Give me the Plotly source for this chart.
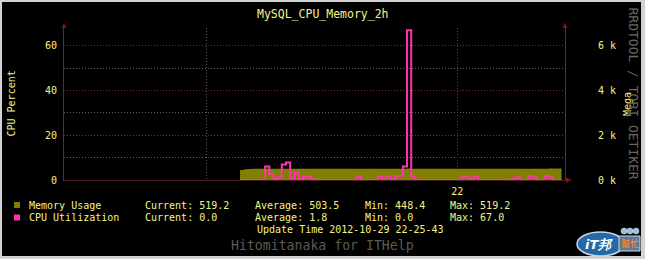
import plotly.graph_objects as go
from datetime import datetime, timedelta

# ---------------- data ----------------
chart_title = "MySQL_CPU_Memory_2h"
x_start = "2012-10-29 20:25:50"
x_end = "2012-10-29 22:25:50"
first_sample = "2012-10-29 21:08:00"
step_seconds = 60
x_tick_vals = ["2012-10-29 22:00:00"]
x_tick_text = ["22"]
x_minor_vals = ["2012-10-29 21:00:00"]

cpu_percent = [0, 0, 0, 0, 0, 0, 6.0, 2.7, 0.3, 1.5, 6.9, 7.8, 0.9, 3.3, 0.3, 1.5, 1.5, 0.3,
               0, 0, 0, 0, 0, 0, 0, 0, 0, 0, 1.5, 0, 0, 0, 0, 1.5, 0, 1.5, 0, 1.5, 1.9, 6.0, 67.0, 1.5,
               0, 0, 0, 0, 0, 0, 0, 0, 0, 0, 0, 1.5, 1.5, 0, 1.5, 0, 0, 0, 0, 0, 0, 0, 0,
               0.6, 1.2, 0, 0, 1.8, 1.2, 0, 0, 1.8, 1.2, 0, 0]

memory_mega = [448.4, 486.0, 497.3, 501.2, 503.8, 504.1, 505.0, 505.6, 504.9, 505.2,
               505.7, 506.1, 505.8, 505.4, 505.9, 506.3, 506.0, 505.7, 505.5, 505.2,
               505.0, 504.8, 504.6, 504.4, 504.3, 504.1, 504.0, 503.9, 503.8, 503.6,
               503.7, 503.9, 504.0, 504.2, 504.4, 504.6, 505.0, 505.3, 505.8, 507.1,
               509.4, 508.0, 506.2, 505.0, 504.3, 503.9, 503.5, 503.2, 503.0, 502.9,
               502.8, 502.7, 502.6, 502.8, 503.0, 503.1, 503.0, 502.9, 502.8, 502.7,
               502.6, 502.5, 502.4, 502.5, 502.6, 502.8, 503.0, 503.2, 503.5, 504.0,
               504.6, 505.3, 506.2, 507.5, 509.8, 513.6, 519.2]

cpu_ticks = [0, 20, 40, 60]
cpu_tick_text = ["0", "20", "40", "60"]
mem_ticks = [0, 2000, 4000, 6000]
mem_tick_text = ["0 k", "2 k", "4 k", "6 k"]
mem_minor = [1000, 3000, 5000]

legend_rows = [
    ["Memory Usage", "Current: 519.2", "Average: 503.5", "Min: 448.4", "Max: 519.2"],
    ["CPU Utilization", "Current: 0.0", "Average: 1.8", "Min: 0.0", "Max: 67.0"],
]
update_text = "Update Time 2012-10-29 22-25-43"
footer_text = "Hitomitanaka for ITHelp"
left_label = "CPU Percent"
right_label = "Mega"
side_text = "RRDTOOL / TOBI OETIKER"

# ---------------- geometry / style ----------------
W, H = 645, 259
L, R, T, B = 64, 80, 28, 79
PW, PH = W - L - R, H - T - B
def px(x): return (x - L) / PW
def py(y): return (H - B - y) / PH

FONT = "DejaVu Sans Mono"
YEL = "#f4f48a"
OLIVE = "#808000"
PINK = "#ff33aa"
MGRID = "#8a2a2a"
GRID = "#5e5e5e"
DOT = "1px,2px"
AXC = "#3c3c3c"
ARROW = "#8b1010"

t0 = datetime.strptime(first_sample, "%Y-%m-%d %H:%M:%S")
times = [t0 + timedelta(seconds=step_seconds * i) for i in range(len(cpu_percent) + 1)]
cpu_y = cpu_percent + [cpu_percent[-1]]
mem_y = memory_mega + [memory_mega[-1]]

fig = go.Figure()
fig.add_trace(go.Scatter(x=times, y=mem_y, mode="lines", yaxis="y",
                         line=dict(shape="hv", width=0, color=OLIVE),
                         fill="tozeroy", fillcolor=OLIVE, hoverinfo="skip"))
fig.add_trace(go.Scatter(x=times, y=cpu_y, mode="lines", yaxis="y2",
                         line=dict(shape="hv", width=2, color=PINK), hoverinfo="skip"))

fig.update_layout(
    width=W, height=H, margin=dict(l=L, r=R, t=T, b=B),
    paper_bgcolor="black", plot_bgcolor="black", showlegend=False,
    font=dict(family=FONT, color=YEL, size=10),
    xaxis=dict(type="date", range=[x_start, x_end], tickmode="array",
               tickvals=x_tick_vals, ticktext=x_tick_text, ticks="",
               showgrid=True, gridcolor=MGRID, griddash=DOT, gridwidth=1,
               minor=dict(tickmode="array", tickvals=x_minor_vals, showgrid=True,
                          gridcolor=GRID, griddash=DOT, gridwidth=1, ticks=""),
               showline=True, linecolor="#4a1a2a", linewidth=1, zeroline=False,
               tickfont=dict(family=FONT, size=10, color=YEL), ticklabelstandoff=2),
    yaxis=dict(range=[0, 6800], side="right", tickmode="array", tickvals=mem_ticks,
               ticktext=mem_tick_text, ticks="", showgrid=True, gridcolor=MGRID,
               griddash=DOT, gridwidth=1,
               minor=dict(tickmode="array", tickvals=mem_minor, showgrid=True,
                          gridcolor=GRID, griddash=DOT, gridwidth=1, ticks=""),
               showline=True, linecolor=AXC, zeroline=False,
               tickfont=dict(family=FONT, size=10, color=YEL), ticklabelstandoff=30),
    yaxis2=dict(range=[0, 68], side="left", overlaying="y", tickmode="array",
                tickvals=cpu_ticks, ticktext=cpu_tick_text, ticks="", showgrid=False,
                showline=True, linecolor=AXC, zeroline=False,
                tickfont=dict(family=FONT, size=10, color=YEL), ticklabelstandoff=4),
)

ann = []
def text(x, y, s, size=10, color=YEL, xanchor="left", angle=0, **kw):
    ann.append(dict(x=px(x), y=py(y), xref="paper", yref="paper", text=s, showarrow=False,
                    xanchor=xanchor, yanchor="middle", textangle=angle,
                    font=dict(family=kw.pop("family", FONT), size=size, color=color), **kw))

text(322.5, 14, chart_title, size=11.5, xanchor="center")
text(10.5, 104, left_label, angle=-90, xanchor="center")
text(627, 104, right_label, angle=-90, xanchor="center")
text(633, 93.5, side_text, size=13, color="#6a6a60", angle=90, xanchor="center")

col_x = [26.7, 142.7, 253.3, 362.7, 448.3]
row_y = [205, 217.5]
for row, yy in zip(legend_rows, row_y):
    for s, xx in zip(row, col_x):
        text(xx, yy, s)
text(254.7, 229.5, update_text)
text(322, 245.5, footer_text, size=13.2, color="#5c5c52", xanchor="center")

# logo-ish watermark
text(599, 244, "<b><i>iT邦</i></b>", size=13, color="white", xanchor="center", family="DejaVu Sans")
text(629.5, 243.5, "<b>幫忙</b>", size=9, color="#f08a20", xanchor="center", family="Noto Sans CJK TC")

shapes = []
def rect(x0, y0, x1, y1, color, layer="above", line=None):
    shapes.append(dict(type="rect", xref="paper", yref="paper", x0=px(x0), x1=px(x1),
                       y0=py(y0), y1=py(y1), fillcolor=color, layer=layer,
                       line=line or dict(width=0)))

def tri(pts, color):
    path = "M " + " L ".join(f"{px(a)},{py(b)}" for a, b in pts) + " Z"
    shapes.append(dict(type="path", xref="paper", yref="paper", path=path,
                       fillcolor=color, line=dict(width=0), layer="above"))

# legend squares
rect(14, 202, 20, 208, OLIVE)
rect(14, 214.5, 20, 220.5, PINK)
# arrows
tri([(61.5, 28), (66.5, 28), (64, 22.5)], ARROW)
tri([(562.5, 28), (567.5, 28), (565, 22.5)], ARROW)
tri([(566, 177.5), (566, 182.5), (572, 180)], ARROW)
# logo ellipse and bubbles
shapes.append(dict(type="circle", xref="paper", yref="paper", x0=px(577), x1=px(624),
                   y0=py(256), y1=py(232), fillcolor="#2468a8",
                   line=dict(color="#c8d8e8", width=1.5), layer="below"))
shapes.append(dict(type="rect", xref="paper", yref="paper", x0=px(619), x1=px(640),
                   y0=py(251), y1=py(236), fillcolor="#5a7898",
                   line=dict(color="#c8d8e8", width=1), layer="below"))
for cx in (624, 630, 636):
    shapes.append(dict(type="circle", xref="paper", yref="paper", x0=px(cx - 3), x1=px(cx + 3),
                       y0=py(234), y1=py(228), fillcolor="#9cc0e0",
                       line=dict(color="#dfe8f0", width=0.5), layer="above"))
# frame border
BORDER = "#d2d2d2"
rect(0, 0, 2, 259, BORDER)
rect(0, 0, 645, 2, BORDER)
rect(641, 0, 645, 259, BORDER)
rect(0, 256, 645, 259, BORDER)

fig.update_layout(annotations=ann, shapes=shapes)
fig.write_html("out.html")
